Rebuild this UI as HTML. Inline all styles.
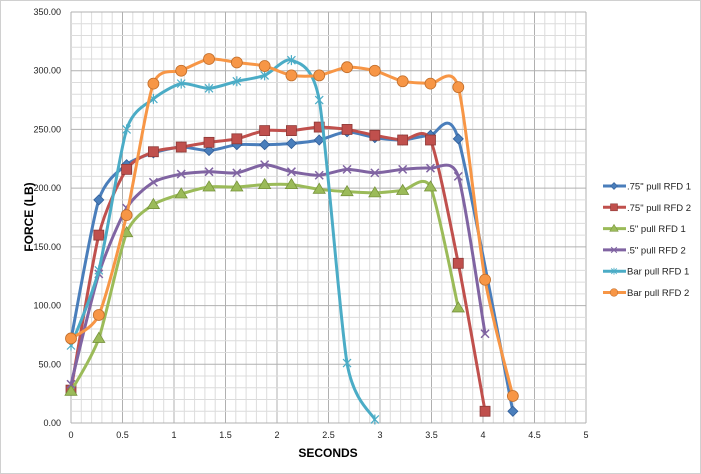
<!DOCTYPE html>
<html><head><meta charset="utf-8"><style>
html,body{margin:0;padding:0;background:#fff}
svg{display:block;font-family:"Liberation Sans",Arial,sans-serif}
</style></head><body>
<svg id="chart" width="701" height="474" viewBox="0 0 701 474">
<rect x="0.5" y="0.5" width="700" height="473" fill="#fff" stroke="#d0d0d0"/>
<g id="grid"></g><g id="axes"></g><g id="series"></g><g id="legend"></g>
<text x="33" y="217" transform="rotate(-90 33 217)" text-anchor="middle" font-size="12" font-weight="bold">FORCE (LB)</text>
<text x="328" y="457" text-anchor="middle" font-size="12" font-weight="bold">SECONDS</text>
</svg>
<script>
const xTicks=[0,0.5,1,1.5,2,2.5,3,3.5,4,4.5,5];
const xTickLabels=["0","0.5","1","1.5","2","2.5","3","3.5","4","4.5","5"];
const yTicks=[0,50,100,150,200,250,300,350];
const yTickLabels=["0.00","50.00","100.00","150.00","200.00","250.00","300.00","350.00"];
const seriesNames=['.75" pull RFD 1','.75" pull RFD 2','.5" pull RFD 1','.5" pull RFD 2','Bar pull RFD 1','Bar pull RFD 2'];
const tBlue=[0,0.27,0.54,0.8,1.07,1.34,1.61,1.88,2.14,2.41,2.68,2.95,3.22,3.49,3.76,4.29];
const vBlue=[71,190,220,230,235,232,237,237,238,241,248,243,241,245,242,10];
const tRed=[0,0.27,0.54,0.8,1.07,1.34,1.61,1.88,2.14,2.41,2.68,2.95,3.22,3.49,3.76,4.02];
const vRed=[28,160,216,231,235,239,242,249,249,252,250,245,241,241,136,10];
const tGreen=[0,0.27,0.54,0.8,1.07,1.34,1.61,1.88,2.14,2.41,2.68,2.95,3.22,3.49,3.76];
const vGreen=[27,72,162,186,195,201,201,203,203,199,197,196,198,201,98];
const tPurple=[0,0.27,0.54,0.8,1.07,1.34,1.61,1.88,2.14,2.41,2.68,2.95,3.22,3.49,3.76,4.02];
const vPurple=[33,127,183,205,212,214,213,220,214,211,216,213,216,217,210,76];
const tTeal=[0,0.27,0.54,0.8,1.07,1.34,1.61,1.88,2.14,2.41,2.68,2.95];
const vTeal=[66,130,250,276,289,285,291,296,309,275,51,3];
const tOrange=[0,0.27,0.54,0.8,1.07,1.34,1.61,1.88,2.14,2.41,2.68,2.95,3.22,3.49,3.76,4.02,4.29];
const vOrange=[72,92,177,289,300,310,307,304,296,296,303,300,291,289,286,122,23];

const NS="http://www.w3.org/2000/svg";
const X0=71,X1=586,Y0=423,Y1=12;
const xs=v=>X0+(v/5)*(X1-X0);
const ys=v=>Y0-(v/350)*(Y0-Y1);
function mk(tag,attrs,parent){const e=document.createElementNS(NS,tag);for(const k in attrs)e.setAttribute(k,attrs[k]);parent.appendChild(e);return e;}
const grid=document.getElementById('grid'),axes=document.getElementById('axes'),ser=document.getElementById('series'),leg=document.getElementById('legend');
for(let i=0;i<=50;i++){const x=xs(i*0.1);const l=mk('line',{x1:x,x2:x,y1:Y1,y2:Y0,stroke:i%5?'#dcdcdc':'#b0b0b0','stroke-width':1},grid);

}
for(let i=0;i<=35;i++){const y=ys(i*10);const l=mk('line',{x1:X0,x2:X1,y1:y,y2:y,stroke:i%5?'#dcdcdc':'#b0b0b0','stroke-width':1},grid);

}
xTicks.forEach((v,i)=>{const t=mk('text',{x:xs(v),y:Y0+15,'text-anchor':'middle','font-size':9,fill:'#222'},axes);t.textContent=xTickLabels[i];

});
yTicks.forEach((v,i)=>{const t=mk('text',{x:X0-10,y:ys(v)+3,'text-anchor':'end','font-size':9,fill:'#222'},axes);t.textContent=yTickLabels[i];

});
function spline(pts){let d=`M${pts[0][0]},${pts[0][1]}`;for(let i=0;i<pts.length-1;i++){const p0=pts[i-1]||pts[i],p1=pts[i],p2=pts[i+1],p3=pts[i+2]||p2;const k=0.12;
d+=` C${p1[0]+(p2[0]-p0[0])*k},${p1[1]+(p2[1]-p0[1])*k} ${p2[0]-(p3[0]-p1[0])*k},${p2[1]-(p3[1]-p1[1])*k} ${p2[0]},${p2[1]}`;}return d;}
function marker(type,x,y,c,dark,parent){
 if(type==='diamond')return mk('path',{d:`M${x},${y-5}L${x+5},${y}L${x},${y+5}L${x-5},${y}Z`,fill:c,stroke:dark,'stroke-width':0.8},parent);
 if(type==='square')return mk('rect',{x:x-5,y:y-5,width:10,height:10,fill:c,stroke:dark,'stroke-width':0.8},parent);
 if(type==='triangle')return mk('path',{d:`M${x},${y-6}L${x+6},${y+4}L${x-6},${y+4}Z`,fill:c,stroke:dark,'stroke-width':0.8},parent);
 if(type==='x')return mk('path',{d:`M${x-4},${y-4}L${x+4},${y+4}M${x-4},${y+4}L${x+4},${y-4}`,stroke:c,'stroke-width':1.5},parent);
 if(type==='star')return mk('path',{d:`M${x-4},${y-4}L${x+4},${y+4}M${x-4},${y+4}L${x+4},${y-4}M${x},${y-5}L${x},${y+5}`,stroke:c,'stroke-width':1.2},parent);
 return mk('circle',{cx:x,cy:y,r:5.5,fill:c,stroke:dark,'stroke-width':0.8},parent);}
const S=[[tBlue,vBlue,'#4a7ebb','#2f5d99','diamond'],[tRed,vRed,'#c0504d','#8c3836','square'],[tGreen,vGreen,'#9bbb59','#77933c','triangle'],[tPurple,vPurple,'#8064a2','#5c4776','x'],[tTeal,vTeal,'#4bacc6','#31859c','star'],[tOrange,vOrange,'#f79646','#c06d2a','circle']];
S.forEach((s,si)=>{const g=mk('g',{},ser);


const pts=s[0].map((t,i)=>[xs(t),ys(s[1][i])]);
const p=mk('path',{d:spline(pts),fill:'none',stroke:s[2],'stroke-width':3,'stroke-linejoin':'round'},g);


pts.forEach(q=>{const m=marker(s[4],q[0],q[1],s[2],s[3],g);

});
const ly=186+si*21.3;const lg=mk('g',{},leg);


mk('line',{x1:603,x2:626,y1:ly,y2:ly,stroke:s[2],'stroke-width':3},lg);
marker(s[4],614,ly,s[2],s[3],lg).setAttribute('transform',`translate(${614*0.3},${ly*0.3}) scale(0.7)`);
const tx=mk('text',{x:627,y:ly+3.5,'font-size':9.5,fill:'#222'},lg);tx.textContent=seriesNames[si];});
</script>
</body></html>
